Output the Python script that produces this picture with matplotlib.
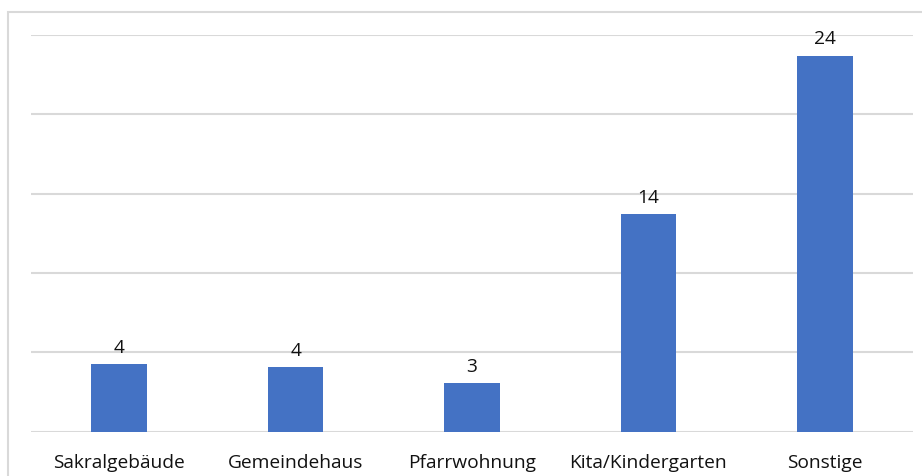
import matplotlib
matplotlib.use("Agg")
import matplotlib.pyplot as plt
from matplotlib.patches import Rectangle

categories = ["Sakralgebäude", "Gemeindehaus", "Pfarrwohnung", "Kita/Kindergarten", "Sonstige"]
values = [4.26, 4.05, 3.06, 13.7, 23.7]
labels = ["4", "4", "3", "14", "24"]
yticks = [0, 5, 10, 15, 20, 25]

plt.rcParams['font.family'] = ['Open Sans', 'DejaVu Sans']

fig = plt.figure(figsize=(9.22, 4.77), dpi=100)
ax = fig.add_axes([31/922, 1 - 432.5/477, 882/922, (432.5 - 36)/477])

x = list(range(len(categories)))
bars = ax.bar(x, values, width=0.315, color="#4472C4", zorder=3)
ax.set_xlim(-0.5, len(categories) - 0.5)
ax.set_ylim(0, 25)
ax.set_yticks(yticks)
ax.yaxis.grid(True, color="#D9D9D9", linewidth=1.5, zorder=0)
ax.tick_params(axis='y', left=False, labelleft=False)
ax.tick_params(axis='x', bottom=False, pad=12)
ax.set_xticks(x)
ax.set_xticklabels(categories, fontsize=13.8, color="#111111")
for s in ax.spines.values():
    s.set_visible(False)

for rect, lab in zip(bars, labels):
    ax.annotate(lab, (rect.get_x() + rect.get_width()/2, rect.get_height()),
                xytext=(0, 6), textcoords="offset points", ha="center", va="bottom",
                fontsize=13.8, color="#111111")

# outer frame (left and top edges visible)
fig.patches.append(Rectangle((8/922, -0.1), 1.0, 1 - 13/477 + 0.1, transform=fig.transFigure,
                             fill=False, edgecolor="#D9D9D9", linewidth=1.5))

fig.savefig("out.png", dpi=100)
